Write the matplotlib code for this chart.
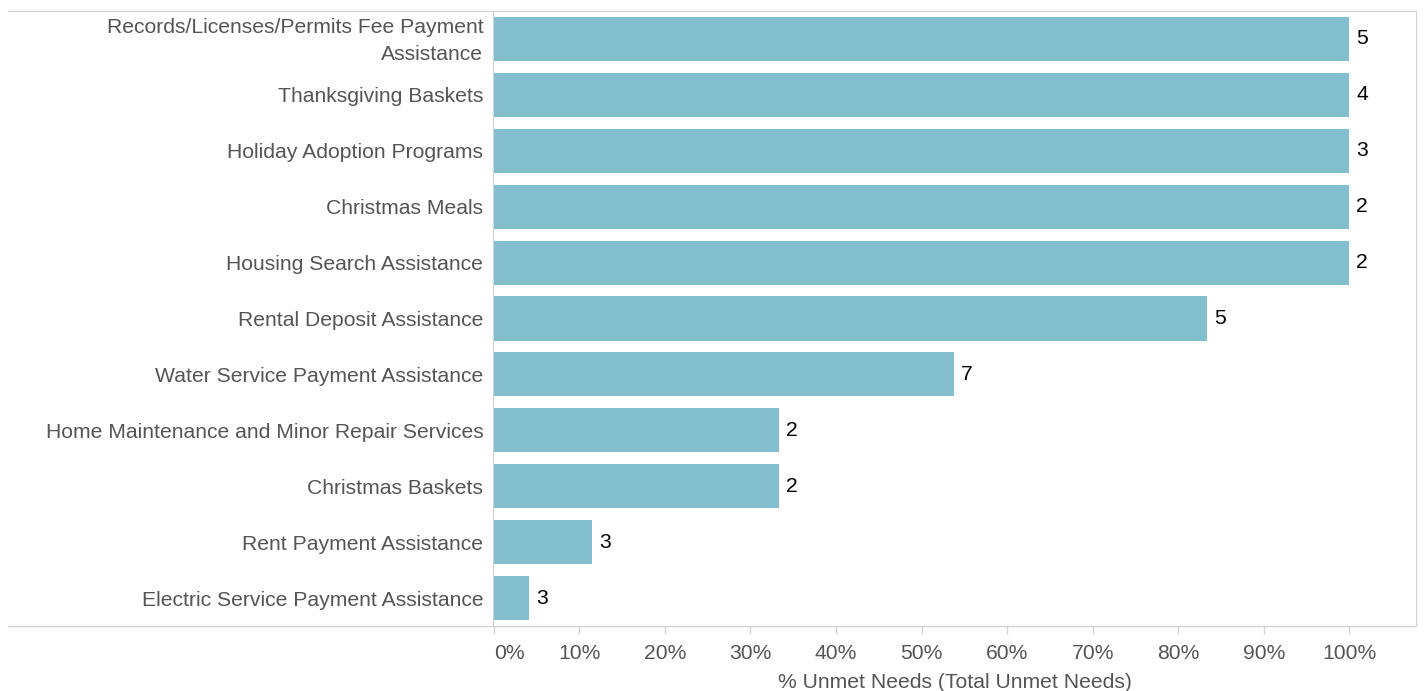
import matplotlib
matplotlib.use('Agg')
import matplotlib.pyplot as plt
import matplotlib.transforms as mtransforms
from matplotlib.lines import Line2D

# 서비스별 미충족 수요 비율 막대그래프
categories = [
    "Records/Licenses/Permits Fee Payment\nAssistance",
    "Thanksgiving Baskets",
    "Holiday Adoption Programs",
    "Christmas Meals",
    "Housing Search Assistance",
    "Rental Deposit Assistance",
    "Water Service Payment Assistance",
    "Home Maintenance and Minor Repair Services",
    "Christmas Baskets",
    "Rent Payment Assistance",
    "Electric Service Payment Assistance",
]
pct_unmet = [100, 100, 100, 100, 100, 83.4, 53.8, 33.3, 33.3, 11.5, 4.1]
total_unmet = [5, 4, 3, 2, 2, 5, 7, 2, 2, 3, 3]
x_ticks = [0, 10, 20, 30, 40, 50, 60, 70, 80, 90, 100]

BAR_COLOR = '#83bfcf'
GRID_COLOR = '#d4d4d4'
TEXT_COLOR = '#555555'
FS = 15.2

plt.rcParams['font.family'] = ['Liberation Sans', 'DejaVu Sans']

fig = plt.figure(figsize=(14.26, 6.91), dpi=100)
ax = fig.add_axes([493 / 1426, 1 - 626 / 691, (1416 - 493) / 1426, (626 - 11) / 691])

y = list(range(len(categories)))
ax.barh(y, pct_unmet, height=0.79, color=BAR_COLOR, zorder=2)

for yi, v, n in zip(y, pct_unmet, total_unmet):
    ax.text(v + 0.8, yi, str(n), va='center', ha='left', fontsize=FS, color='black')

ax.set_ylim(len(categories) - 0.5, -0.5)
ax.set_xlim(-0.1, 107.8)

ax.set_yticks(y)
ax.set_yticklabels(categories, fontsize=FS, color=TEXT_COLOR, linespacing=1.55)
ax.tick_params(axis='y', length=0, pad=7)

# 두 줄짜리 라벨은 살짝 위로
first = ax.get_yticklabels()[0]
first.set_transform(first.get_transform() +
                    mtransforms.ScaledTranslation(0, 4 / 100, fig.dpi_scale_trans))

ax.set_xticks(x_ticks)
ax.set_xticklabels([f"{t}%" for t in x_ticks], fontsize=FS, color=TEXT_COLOR)
ax.get_xticklabels()[0].set_horizontalalignment('left')
ax.tick_params(axis='x', length=6, width=1, color=GRID_COLOR, pad=7)
ax.set_xlabel("% Unmet Needs (Total Unmet Needs)", fontsize=FS, color=TEXT_COLOR, labelpad=7)

for side in ['top', 'bottom']:
    ax.spines[side].set_visible(False)
ax.spines['right'].set_color(GRID_COLOR)
ax.spines['left'].set_color(GRID_COLOR)

# 라벨 영역까지 이어지는 위/아래 경계선
y_top = 1 - 11 / 691
y_bot = 1 - 626 / 691
for yy in (y_top, y_bot):
    fig.add_artist(Line2D([8 / 1426, 1416 / 1426], [yy, yy], color=GRID_COLOR,
                          linewidth=1, transform=fig.transFigure))

fig.savefig('out.png', dpi=100)
